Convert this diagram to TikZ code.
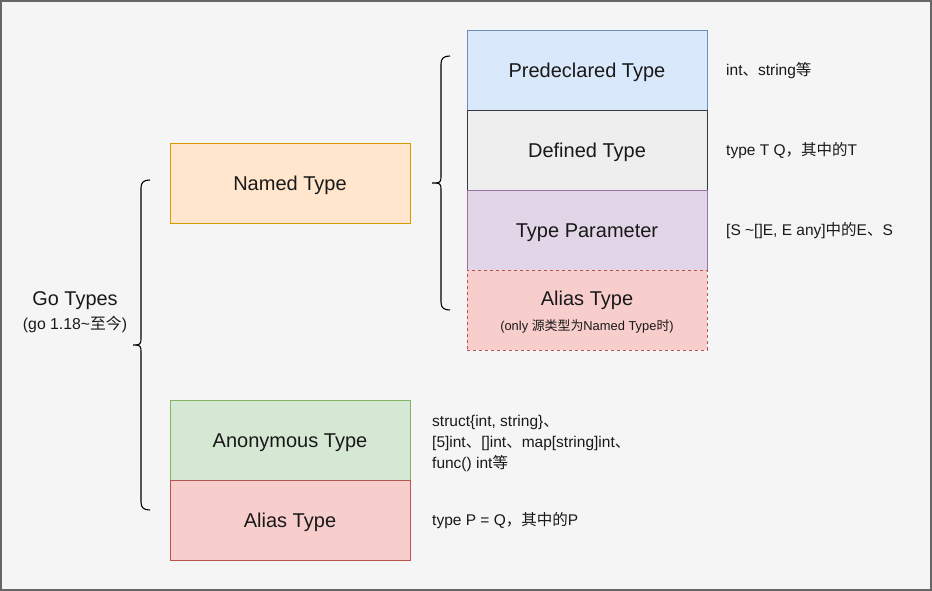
\documentclass[tikz,border=0pt]{standalone}
\usepackage{fontspec}
\setmainfont{Liberation Sans}
\newfontfamily\cjk{Noto Sans CJK SC}
\newcommand\zh[1]{{\cjk #1}}
\definecolor{bgc}{HTML}{F5F5F5}
\definecolor{framec}{HTML}{666666}
\definecolor{orangef}{HTML}{FFE6CC}\definecolor{oranged}{HTML}{D79B00}
\definecolor{bluef}{HTML}{DAE8FC}\definecolor{blued}{HTML}{6C8EBF}
\definecolor{grayf}{HTML}{EEEEEE}\definecolor{grayd}{HTML}{36393D}
\definecolor{purplef}{HTML}{E1D5E7}\definecolor{purpled}{HTML}{9673A6}
\definecolor{redf}{HTML}{F8CECC}\definecolor{redd}{HTML}{B85450}
\definecolor{greenf}{HTML}{D5E8D4}\definecolor{greend}{HTML}{82B366}
\begin{document}
\begin{tikzpicture}[x=1pt,y=-1pt,
  box/.style={draw, line width=0.8pt, minimum width=240pt, minimum height=80pt, inner sep=0pt, text height=18pt, text depth=3pt, font=\fontsize{20}{23}\selectfont, text=black!90},
  note/.style={anchor=west, align=left, inner sep=0pt, font=\fontsize{15.5}{21}\selectfont, text=black!90},
  brace/.style={draw=black, line width=1.1pt}]
\useasboundingbox (0,0) rectangle (932,591);
\fill[bgc] (0,0) rectangle (932,591);
\draw[framec, line width=1.6pt] (0.8,0.8) rectangle (931.2,590.2);

% left column
\node[box, fill=orangef, draw=oranged] (named) at (290,183) {Named Type};
\node[box, fill=greenf, draw=greend] (anon) at (290,440) {Anonymous Type};
\node[box, fill=redf, draw=redd] (alias) at (290,520) {Alias Type};

% right column
\node[box, fill=bluef, draw=blued] (pre) at (587,70) {Predeclared Type};
\node[box, fill=grayf, draw=grayd] (def) at (587,150) {Defined Type};
\node[box, fill=purplef, draw=purpled] (tparam) at (587,230) {Type Parameter};
\node[box, fill=redf, draw=redd, dashed] (alias2) at (587,310) {};
\node[font=\fontsize{20}{23}\selectfont, text=black!90] (alias2t) at (587,300) {Alias Type};
\node[font=\fontsize{12.9}{15}\selectfont, text=black!90] (alias2s) at (587,326) {(only \zh{源类型为}Named Type\zh{时})};

% Go types label
\node[font=\fontsize{19.9}{23}\selectfont, text=black!90] (go) at (75,300.5) {Go Types};
\node[font=\fontsize{15.8}{18}\selectfont, text=black!90] (gosub) at (75,324.5) {(go 1.18\textasciitilde\zh{至今})};

% notes
\node[note] (n1) at (726,71) {int\zh{、}string\zh{等}};
\node[note] (n2) at (726,151) {type T Q\zh{，}\zh{其中的}T};
\node[note] (n3) at (726,231) {[S \textasciitilde[]E, E any]\zh{中的}E\zh{、}S};
\node[note] (n4) at (432,443) {struct\{int, string\}\zh{、}\\{}[5]int\zh{、}[]int\zh{、}map[string]int\zh{、}\\{}func() int\zh{等}};
\node[note] (n5) at (432,521) {type P = Q\zh{，}\zh{其中的}P};

% big brace
\draw[brace] (150,180) .. controls (144,180) and (141,182) .. (141,188) -- (141,339)
  .. controls (141,343) and (140,345) .. (136,345) -- (133,345);
\draw[brace] (136,345) .. controls (140,345) and (141,347) .. (141,351) -- (141,502)
  .. controls (141,508) and (144,510) .. (150,510);
% inner brace
\draw[brace] (450,56) .. controls (444,56) and (441,58) .. (441,64) -- (441,177)
  .. controls (441,181) and (440,183) .. (436,183) -- (432,183);
\draw[brace] (436,183) .. controls (440,183) and (441,185) .. (441,189) -- (441,302)
  .. controls (441,308) and (444,310) .. (450,310);
\end{tikzpicture}
\end{document}
